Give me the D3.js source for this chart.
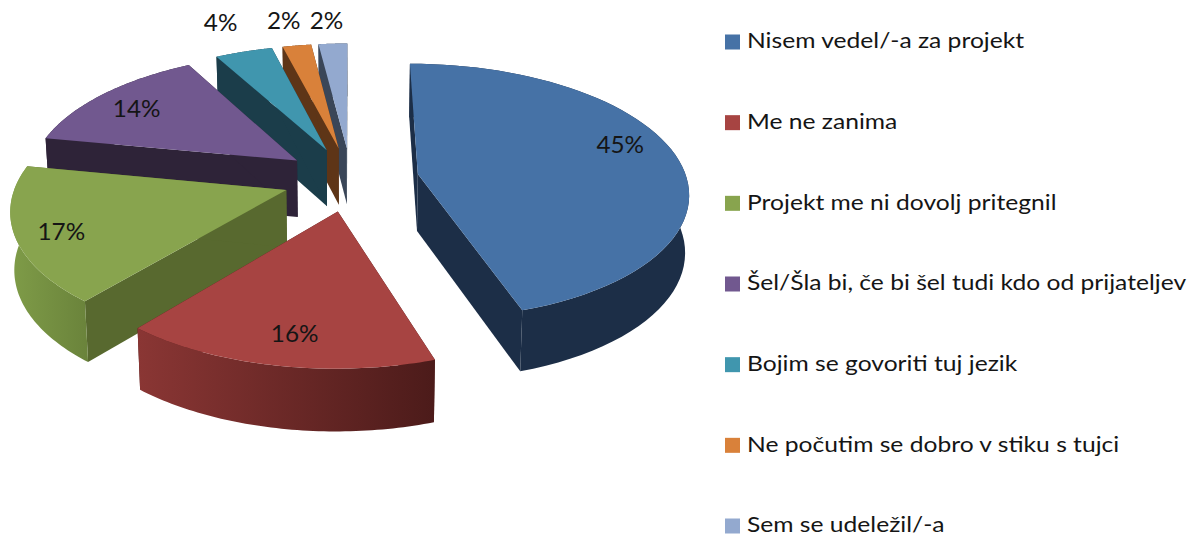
<!DOCTYPE html>
<html><head><meta charset="utf-8">
<script src="https://cdnjs.cloudflare.com/ajax/libs/d3/7.8.5/d3.min.js"></script>
<style>html,body{margin:0;padding:0;background:#fff}svg{display:block}
text{font-family:Lato,"Open Sans",sans-serif;fill:#151515}</style></head>
<body><svg id="c" width="1197" height="538"></svg>
<script>
const categories=["Nisem vedel/-a za projekt","Me ne zanima","Projekt me ni dovolj pritegnil","Šel/Šla bi, če bi šel tudi kdo od prijateljev","Bojim se govoriti tuj jezik","Ne počutim se dobro v stiku s tujci","Sem se udeležil/-a"];
const values=[45,16,17,14,4,2,2];
const topColors=["#4672a6","#a74442","#88a44e","#71588f","#4096ae","#d9813a","#93a9cf"];
const faceColors=["#1c2e47","#4c1b1a","#58692f","#2e2338","#1b3d4a","#5e3517","#3a4658"];
const wallFrom=["#1c2e47","#8a3634","#7f9c48","#2e2338","#1b3d4a","#5e3517","#3a4658"];
const wallTo=["#1c2e47","#4c1b1a","#6a833b","#2e2338","#1b3d4a","#5e3517","#3a4658"];
const labelNudgeX=[-7,6,-7,-1,-3,-3,-3];
const labelNudgeY=[-14,1,5,2,-5,0,2];

const cx=351,cy=179,R=269,explode=68,tilt=0.47,persp=0.0005,depth=57,lean=0.012;
const svg=d3.select("#c");
const color=d3.scaleOrdinal(categories,topColors);
const arcs=d3.pie().sort(null).value(d=>d.v).startAngle(0).endAngle(2*Math.PI)(categories.map((c,i)=>({c,v:values[i],i})));

function project(X,Y,z){
  const s=1/(1-Y*persp), sx=cx+X*s, sy=cy+tilt*Y*s;
  if(!z) return [sx,sy];
  return [cx+(sx-cx)*(1-lean), sy+depth*(1+(s-1)*0.5)];
}
function plane(a,r,th){
  const m=(a.startAngle+a.endAngle)/2;
  return [r*Math.sin(th)+explode*Math.sin(m), -(r*Math.cos(th)+explode*Math.cos(m))];
}
const pt=(a,r,th,z)=>{const [X,Y]=plane(a,r,th);return project(X,Y,z)};
const line=d3.line();
const rim=a=>d3.range(0,61).map(i=>a.startAngle+(a.endAngle-a.startAngle)*i/60);

const defs=svg.append("defs");
arcs.forEach(a=>{
  const g=defs.append("linearGradient").attr("id","w"+a.data.i);
  g.append("stop").attr("offset",0).attr("stop-color",wallFrom[a.data.i]);
  g.append("stop").attr("offset",1).attr("stop-color",wallTo[a.data.i]);
});

const order=arcs.slice(1).reverse().concat(arcs[0]);
const g=svg.selectAll("g.s").data(order).join("g").attr("class","s");
g.each(function(a){
  const el=d3.select(this), i=a.data.i, ths=rim(a);
  [a.startAngle,a.endAngle].forEach(th=>{
    el.append("path").attr("fill",faceColors[i]).attr("d",line([pt(a,0,th,0),pt(a,R,th,0),pt(a,R,th,1),pt(a,0,th,1)])+"Z");
  });
  const wall=ths.map(t=>pt(a,R,t,0)).concat(ths.slice().reverse().map(t=>pt(a,R,t,1)));
  el.append("path").attr("fill",`url(#w${i})`).attr("d",line(wall)+"Z");
  const top=[pt(a,0,0,0)].concat(ths.map(t=>pt(a,R,t,0)));
  el.append("path").attr("fill",color(a.data.c)).attr("d",line(top)+"Z");
});

svg.selectAll("text.pct").data(arcs).join("text").attr("class","pct")
  .attr("text-anchor","middle").attr("dominant-baseline","central").attr("font-size",22.5)
  .attr("transform",a=>{
    const m=(a.startAngle+a.endAngle)/2, r=R*(a.data.v<5?1.28:0.81);
    const p=pt(a,r,m,0);
    return `translate(${p[0]+labelNudgeX[a.data.i]},${p[1]+labelNudgeY[a.data.i]}) scale(1.08,1)`;
  }).text(a=>a.data.v+"%");

const ly=d3.scalePoint(categories,[42,526]);
const leg=svg.selectAll("g.l").data(categories).join("g").attr("class","l").attr("transform",d=>`translate(725,${ly(d)})`);
leg.append("rect").attr("x",0).attr("y",-7.5).attr("width",15).attr("height",15).attr("fill",d=>color(d));
leg.append("text").attr("transform","translate(22,-2) scale(1.12,1)").attr("dominant-baseline","central").attr("font-size",22).text(d=>d);
</script></body></html>
